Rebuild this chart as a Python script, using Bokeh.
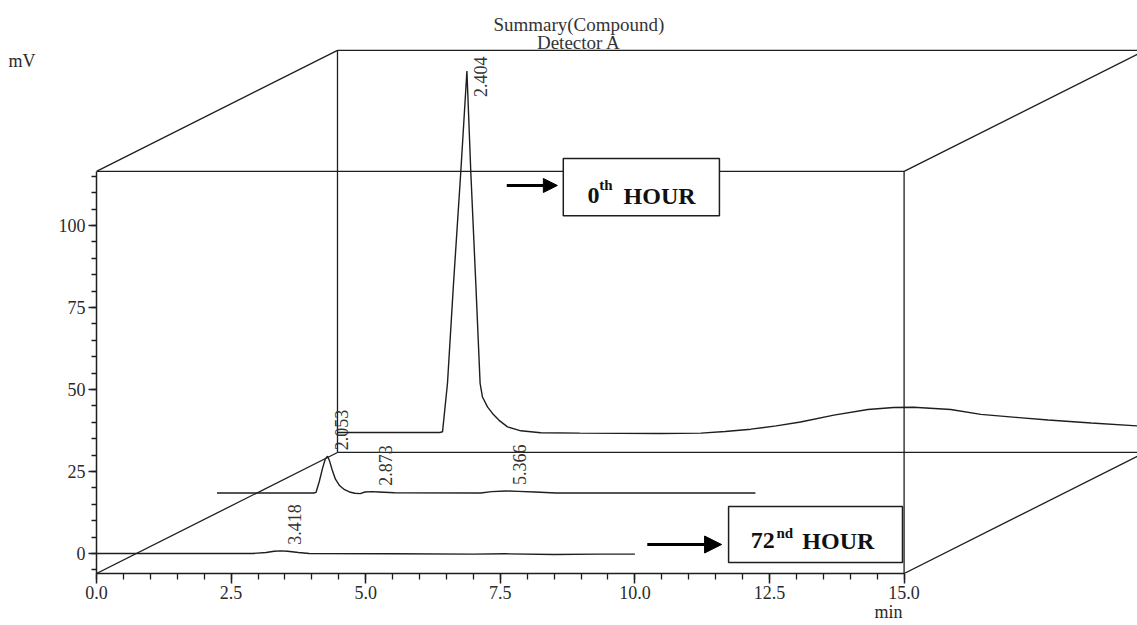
import numpy as np
from bokeh.plotting import figure
from bokeh.models import (Range1d, SingleIntervalTicker, PrintfTickFormatter,
                          Arrow, NormalHead, LinearAxis, FixedTicker,
                          CustomJSTickFormatter)
from bokeh.embed import file_html
from bokeh.resources import INLINE
from bokeh.core.properties import value

# ---------------- data ----------------
# front trace: 72nd hour
time_72h = [0.0, 2.90, 3.15, 3.30, 3.418, 3.55, 3.75, 3.95, 5.5, 7.0, 7.6, 8.5, 9.3, 10.0]
signal_72h = [0.0, 0.0, 0.3, 0.7, 0.8, 0.7, 0.3, 0.0, -0.1, -0.2, -0.1, -0.3, -0.2, -0.2]

# middle trace (intermediate sample)
time_mid = [0.0, 1.80, 1.84, 1.90, 1.96, 2.01, 2.053, 2.09, 2.14, 2.20, 2.28, 2.37,
            2.46, 2.56, 2.66, 2.75, 2.873, 3.0, 3.3, 4.9, 5.1, 5.366, 5.6, 5.9, 6.3, 10.0]
signal_mid = [0.0, 0.0, 0.2, 3.5, 7.5, 10.3, 11.2, 9.8, 7.0, 4.2, 2.2, 1.0,
              0.3, -0.1, -0.2, 0.3, 0.4, 0.3, 0.05, 0.0, 0.4, 0.6, 0.5, 0.3, 0.0, 0.0]

# back trace: 0th hour
time_0h = [0.0, 1.90, 1.951, 2.043, 2.155, 2.29, 2.404, 2.476, 2.569, 2.649, 2.693,
           2.786, 2.879, 3.002, 3.158, 3.405, 3.776, 4.5, 6.0, 6.75, 7.2, 7.68, 8.15,
           8.6, 9.22, 9.85, 10.33, 10.70, 11.39, 11.95, 12.6, 13.2, 14.0, 14.87, 15.0]
signal_0h = [0.0, 0.0, 0.2, 15.0, 45.4, 79.4, 110.2, 79.4, 45.4, 15.0, 10.8,
             7.8, 5.8, 3.7, 1.7, 0.5, -0.1, -0.2, -0.3, -0.2, 0.3, 1.0, 2.0,
             3.2, 5.3, 7.0, 7.6, 7.7, 7.0, 5.5, 4.6, 3.8, 2.9, 2.0, 1.9]

# peak annotations (retention time label, apex time, apex height)
peaks_72h = (["3.418"], [3.418], [0.8])
peaks_mid = (["2.053", "2.873", "5.366"], [2.053, 2.873, 5.366], [11.2, 0.4, 0.6])
peaks_0h = (["2.404"], [2.404], [110.2])

title_lines = ["Summary(Compound)", "Detector A"]
x_unit = "min"
y_unit = "mV"

# ---------------- geometry ----------------
PX_X = 53.84          # pixels per minute
PX_Y = 3.28           # pixels per mV
Y0 = -6.1             # bottom of box
BOX_X = (0.0, 15.0)
BOX_Y = (Y0, 116.5)
DEPTH = (4.476, 36.9)  # offset of the back face of the box

FONT = "Liberation Serif"
INK = "#1e1e1e"
TXT = "#2a2a2a"

FRAME_W = 1137 - 96
FRAME_H = 573

p = figure(width=1137, height=625, output_backend="svg", toolbar_location=None,
           title=None,
           x_range=Range1d(0, FRAME_W / PX_X),
           y_range=Range1d(Y0, Y0 + FRAME_H / PX_Y),
           min_border_left=96, min_border_right=0, min_border_top=0,
           min_border_bottom=52)
p.outline_line_color = None
p.xgrid.visible = False
p.ygrid.visible = False
p.background_fill_color = "white"
p.border_fill_color = "white"

# axes
p.xaxis.bounds = BOX_X
p.xaxis.ticker = SingleIntervalTicker(interval=2.5, num_minor_ticks=5)
p.xaxis.formatter = PrintfTickFormatter(format="%.1f")
p.xaxis.major_tick_out = 10
p.xaxis.minor_tick_out = 6
p.xaxis.major_label_standoff = 2
p.yaxis.bounds = BOX_Y
p.yaxis.ticker = SingleIntervalTicker(interval=25, num_minor_ticks=5)
p.yaxis.formatter = PrintfTickFormatter(format="%d")
p.yaxis.major_tick_out = 8
p.yaxis.minor_tick_out = 5
p.yaxis.major_label_standoff = 3
for ax in (p.xaxis, p.yaxis):
    ax.major_tick_in = 0
    ax.minor_tick_in = 0
    ax.axis_line_color = INK
    ax.axis_line_width = 1.5
    ax.major_tick_line_color = INK
    ax.minor_tick_line_color = INK
    ax.major_tick_line_width = 1.5
    ax.minor_tick_line_width = 1.3
    ax.major_label_text_font = FONT
    ax.major_label_text_font_size = "18px"
    ax.major_label_text_color = TXT

# unit captions drawn as extra, line-less axes
def unit_axis(tick, text, standoff):
    return LinearAxis(ticker=FixedTicker(ticks=[tick], minor_ticks=[]),
                      formatter=CustomJSTickFormatter(code="return %r;" % text),
                      axis_line_color=None, major_tick_line_color=None,
                      minor_tick_line_color=None, major_tick_out=0, major_tick_in=0,
                      minor_tick_out=0, minor_tick_in=0,
                      major_label_standoff=standoff,
                      major_label_text_font=FONT, major_label_text_font_size="18px",
                      major_label_text_color=TXT)

p.add_layout(unit_axis(150, y_unit, 20), "left")
p.add_layout(unit_axis(14.71, x_unit, 0), "below")

# box edges
(x0, x1), (y0, y1) = BOX_X, BOX_Y
dx, dy = DEPTH
seg_x0 = [x0, x1, x0 + dx, x0 + dx, x0 + dx, x0, x0, x1, x1]
seg_y0 = [y1, y0, y1 + dy, y0 + dy, y0 + dy, y1, y0, y1, y0]
seg_x1 = [x1, x1, x1 + dx, x0 + dx, x1 + dx, x0 + dx, x0 + dx, x1 + dx, x1 + dx]
seg_y1 = [y1, y1, y1 + dy, y1 + dy, y0 + dy, y1 + dy, y0 + dy, y1 + dy, y0 + dy]
p.segment(seg_x0, seg_y0, seg_x1, seg_y1, line_color=INK, line_width=1.3)

# traces
traces = [(time_72h, signal_72h, peaks_72h, 0.0),
          (time_mid, signal_mid, peaks_mid, 0.5),
          (time_0h, signal_0h, peaks_0h, 1.0)]
lab_len = 12.2            # label length in mV units (~40 px)
lab_top = y1 + dy - 2.0   # labels stay under the back face top
for t, s, pk, depth in traces:
    ox, oy = depth * dx, depth * dy
    p.line(np.array(t) + ox, np.array(s) + oy, line_color=INK, line_width=1.4)
    names, pt, ph = pk
    lx = np.array(pt) + ox + 14.0 / PX_X
    ly = np.minimum(np.array(ph) + oy + 6.0 / PX_Y, lab_top - lab_len)
    p.text(lx, ly, text=names, angle=np.pi / 2, text_align="left",
           text_baseline="middle", text_font=value(FONT),
           text_font_size="18px", text_color="#333333")

# annotation boxes
p.quad(left=[8.67, 11.74], right=[11.57, 14.97], top=[120.4, 14.33],
       bottom=[103.0, -2.75], fill_color="white", line_color=INK, line_width=1.5)

big = dict(text_font=value(FONT), text_font_size="24px", text_font_style="bold",
           text_color="#111111", text_baseline="alphabetic", text_align="left")
small = dict(big, text_font_size="15px")
p.text([9.12, 9.79, 12.15, 13.11], [109.1, 109.1, 3.96, 3.96],
       text=["0", "HOUR", "72", "HOUR"], **big)
p.text([9.34, 12.63], [112.2, 6.4], text=["th", "nd"], **small)

for xs, xe, ya, sz in [(7.62, 8.56, 112.2, 14), (10.23, 11.61, 2.74, 17)]:
    p.add_layout(Arrow(end=NormalHead(size=sz, fill_color="black", line_color="black"),
                       x_start=xs, y_start=ya, x_end=xe, y_end=ya,
                       line_color="black", line_width=3))

# title
p.text([8.96, 8.96], [161.4, 155.9], text=title_lines, text_align="center",
       text_baseline="middle", text_font=value(FONT), text_font_size="19px",
       text_color="#333333")

open("out.html", "w").write(file_html(p, INLINE))
